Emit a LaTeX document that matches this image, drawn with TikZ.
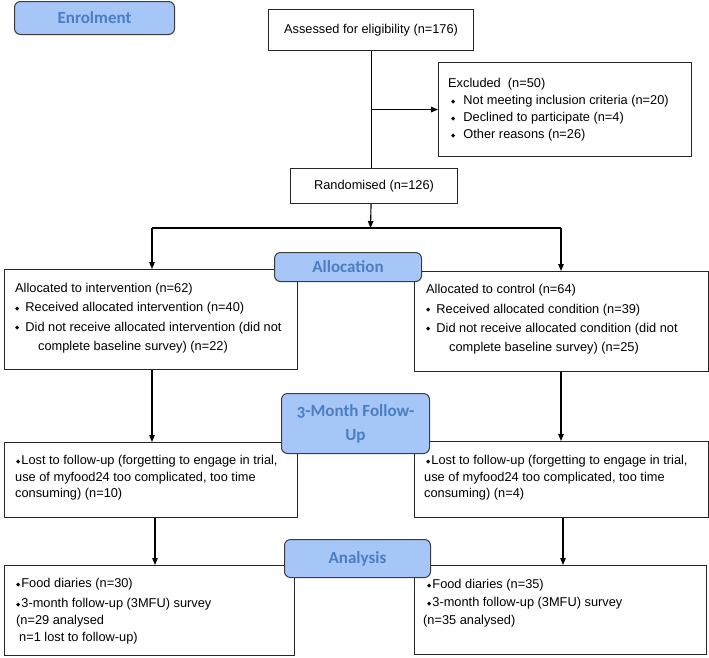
\documentclass[tikz,border=0pt]{standalone}
\usepackage{fontspec}
\setmainfont{Liberation Sans}
\newfontfamily\lblfont[Numbers=OldStyle]{Carlito}
\newfontfamily\djv{DejaVu Sans}
\usetikzlibrary{arrows.meta,calc}
\definecolor{lblfill}{RGB}{166,198,248}
\definecolor{lbltext}{RGB}{74,126,193}
\definecolor{lbldraw}{RGB}{60,60,60}
\newcommand\dia{\raisebox{1.6pt}{\djv\fontsize{5.5}{5.5}\selectfont ◆}}
\tikzset{
 box/.style={draw=black!85, line width=1.1pt, anchor=north west, inner sep=0pt, fill=white, font=\fontsize{12.8}{17}\selectfont},
 txt/.style={anchor=north west, inner sep=0pt, align=left, font=\fontsize{12.8}{17}\selectfont},
 lbl/.style={draw=lbldraw, fill=lblfill, line width=1pt, rounded corners=6pt, text=lbltext, anchor=north west, font=\lblfont\bfseries\fontsize{17}{24}\selectfont, align=center, inner sep=0pt},
 arr/.style={-{Triangle[length=7pt,width=5.5pt]}, line width=1.1pt},
 ln/.style={line width=1.1pt}
}
\begin{document}
\begin{tikzpicture}[x=1pt,y=-1pt]
\useasboundingbox (0,0) rectangle (709,657);
% boxes
\node[box, minimum width=205pt, minimum height=41pt] (a) at (268,9) {Assessed for eligibility (n=176)};
\node[box, minimum width=253pt, minimum height=94pt] (excl) at (438,62) {};
\node[box, minimum width=167pt, minimum height=35pt] (r) at (290,168) {Randomised (n=126)};
\node[box, minimum width=293pt, minimum height=100pt] (int) at (4,269) {};
\node[box, minimum width=294pt, minimum height=100pt] (ctl) at (414,271) {};
\node[box, minimum width=293pt, minimum height=75pt] (ful) at (4,442) {};
\node[box, minimum width=294pt, minimum height=76pt] (fur) at (414,441) {};
\node[box, minimum width=290pt, minimum height=90pt] (anl) at (4,565) {};
\node[box, minimum width=292pt, minimum height=89pt] (anr) at (414,565) {};
% texts
\node[txt] (exclt) at (448,78.5) {Excluded\ \ (n=50)\\
\hspace*{3pt}\dia\hspace{8pt}Not meeting inclusion criteria (n=20)\\
\hspace*{3pt}\dia\hspace{8pt}Declined to participate (n=4)\\
\hspace*{3pt}\dia\hspace{8pt}Other reasons (n=26)};
\node[txt, font=\fontsize{12.8}{19.3}\selectfont] (intt) at (15,283) {Allocated to intervention (n=62)\\
\dia\hspace{6pt}Received allocated intervention (n=40)\\
\dia\hspace{6pt}Did not receive allocated intervention (did not\\
\hspace*{23pt}complete baseline survey) (n=22)};
\node[txt, font=\fontsize{12.8}{19.3}\selectfont] (ctlt) at (426,284.5) {Allocated to control (n=64)\\
\dia\hspace{6pt}Received allocated condition (n=39)\\
\dia\hspace{6pt}Did not receive allocated condition (did not\\
\hspace*{23pt}complete baseline survey) (n=25)};
\node[txt, font=\fontsize{12.8}{16.5}\selectfont] (fult) at (15,455.5) {\hspace*{1pt}\dia\hspace{1pt}Lost to follow-up (forgetting to engage in trial,\\
use of myfood24 too complicated, too time\\
consuming) (n=10)};
\node[txt, font=\fontsize{12.8}{16.5}\selectfont] (furt) at (424,455.5) {\hspace*{2pt}\dia\hspace{1pt}Lost to follow-up (forgetting to engage in trial,\\
use of myfood24 too complicated, too time\\
consuming) (n=4)};
\node[txt] (anlt) at (15,578.5) {\hspace*{1pt}\dia\hspace{1pt}Food diaries (n=30)\\[3pt]
\hspace*{1pt}\dia\hspace{1pt}3-month follow-up (3MFU) survey\\
\hspace*{1pt}(n=29 analysed\\
\hspace*{4pt}n=1 lost to follow-up)};
\node[txt, font=\fontsize{12.8}{18}\selectfont] (anrt) at (423,579.5) {\hspace*{4pt}\dia\hspace{1pt}Food diaries (n=35)\\
\hspace*{4pt}\dia\hspace{1pt}3-month follow-up (3MFU) survey\\
(n=35 analysed)};
% connectors
\coordinate (split) at (370.5,228);
\coordinate (sl) at (152,228);
\coordinate (sr) at (561,228);
\coordinate (ll) at (155,0);
\coordinate (lr) at (563,0);
\draw[ln] (a.south) -- (a.south |- r.north);
\draw[arr] (a.south |- excl.west) -- (excl.west);
\draw[arr] (a.south |- r.south) -- (split);
\draw[ln] (sl) -- (sr);
\draw[arr] (sl) -- (sl |- int.north);
\draw[arr] (sr) -- (sr |- ctl.north);
\draw[arr] (sl |- int.south) -- (sl |- ful.north);
\draw[arr] (sr |- ctl.south) -- (sr |- fur.north);
\draw[arr] (ll |- ful.south) -- (ll |- anl.north);
\draw[arr] (lr |- fur.south) -- (lr |- anr.north);
% labels
\node[lbl, minimum width=160pt, minimum height=33pt] (enr) at (14,1) {Enrolment};
\node[lbl, minimum width=147pt, minimum height=29pt] (alloc) at (274,252) {Allocation};
\node[lbl, minimum width=148pt, minimum height=60pt] (fu) at (281,393) {3-Month Follow-\\Up};
\node[lbl, minimum width=146pt, minimum height=38pt] (an) at (284,539) {Analysis};
\end{tikzpicture}
\end{document}
